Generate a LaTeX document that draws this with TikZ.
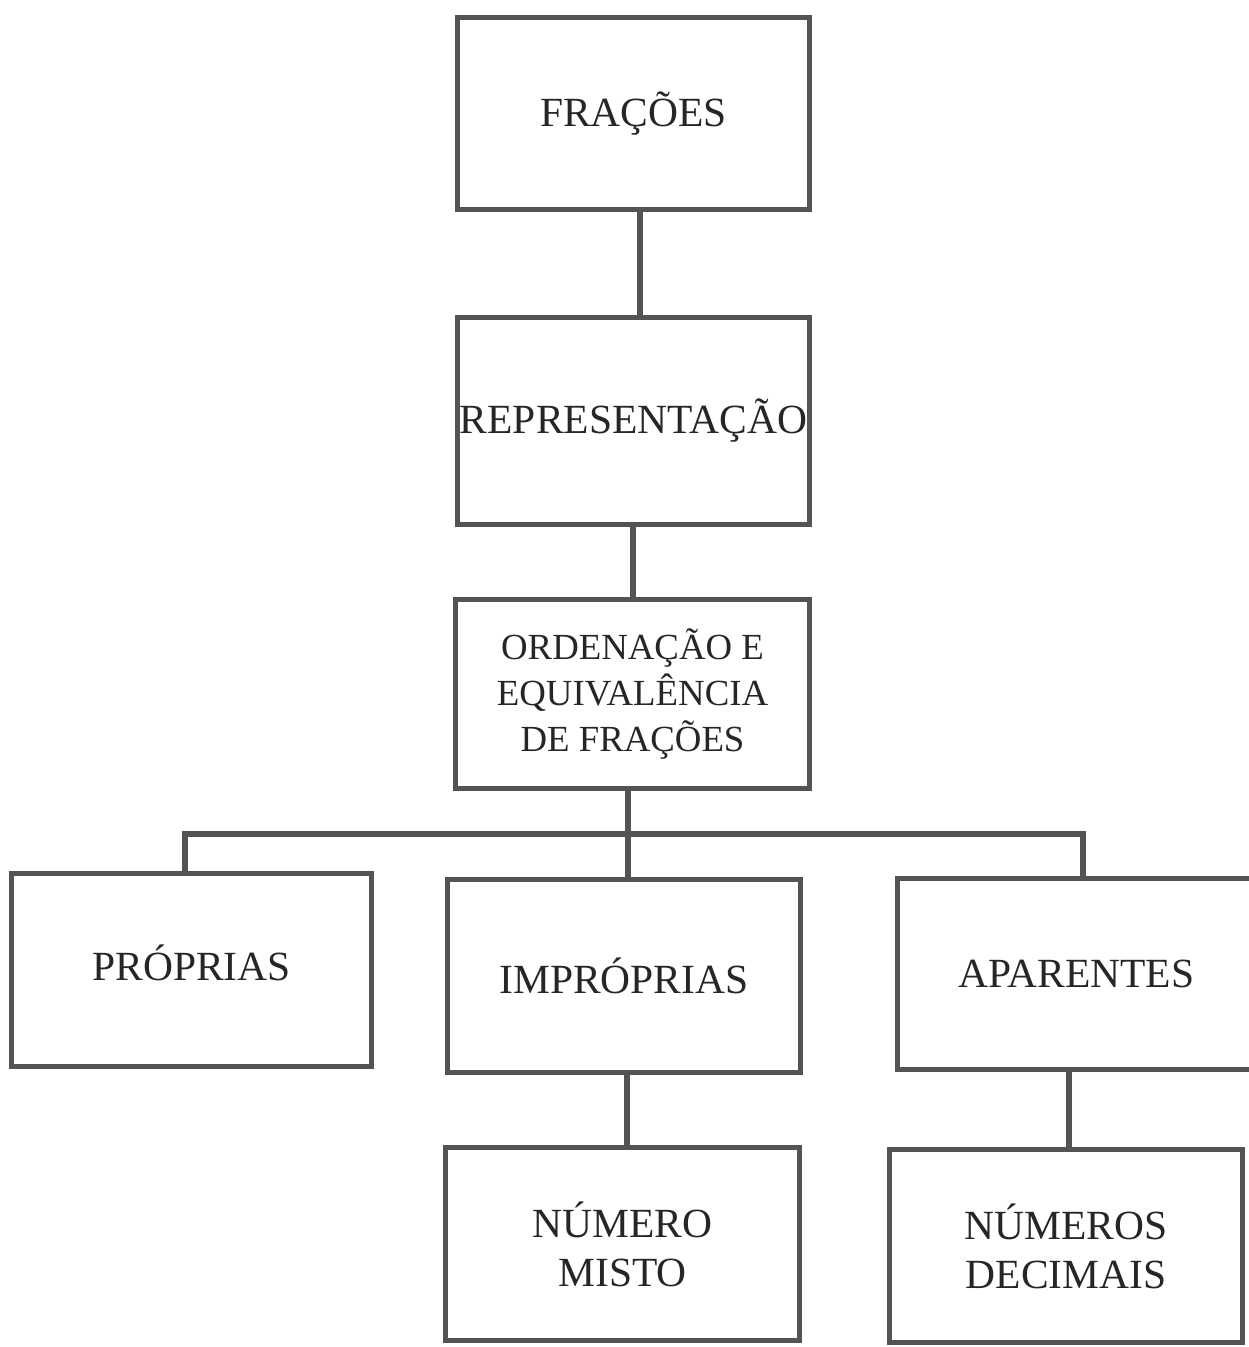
\documentclass[tikz,border=0pt]{standalone}
\usepackage{fontspec}
\setmainfont{Liberation Serif}
\usetikzlibrary{calc}
\definecolor{frame}{gray}{0.33}
\begin{document}
\begin{tikzpicture}[x=0.5pt,y=-0.5pt,
  box/.style={draw=frame, line width=2.6pt, rectangle, inner sep=0pt,
    align=center, text=black!85,
    font=\fontsize{20.75}{24.5}\selectfont},
  link/.style={draw=frame, line width=2.6pt, line join=miter}]
\useasboundingbox[fill=white] (0,0) rectangle (1248,1347);

% concept boxes
\node[box, minimum width=176pt, minimum height=96pt] (fr) at (633.5,113.5) {FRAÇÕES};
\node[box, minimum width=176pt, minimum height=103.5pt] (rep) at (633.5,421) {REPRESENTAÇÃO};
\node[box, minimum width=177pt, minimum height=94.5pt,
      font=\fontsize{18.4}{23}\selectfont] (ord) at (632.5,694)
      {ORDENAÇÃO E\\EQUIVALÊNCIA\\DE FRAÇÕES};
\node[box, minimum width=180pt, minimum height=96.5pt] (prop) at (191.5,970) {PRÓPRIAS\strut};
\node[box, minimum width=176.5pt, minimum height=96.5pt] (impr) at (624,976) {IMPRÓPRIAS};
\node[box, minimum width=178.7pt, minimum height=95.5pt] (apar) at (1076.3,974) {APARENTES};
\node[box, minimum width=177pt, minimum height=96.5pt] (mist) at (622.5,1244) {NÚMERO\\MISTO};
\node[box, minimum width=176.5pt, minimum height=96.5pt] (dec) at (1066,1246) {NÚMEROS\\DECIMAIS};

% connectors
\coordinate (bus) at (628,834);
\draw[link] ($(fr.south)+(6.5,0)$) -- ($(rep.north)+(6.5,0)$);
\draw[link] ($(rep.south)+(-0.5,0)$) -- ($(ord.north)+(0.5,0)$);
\draw[link] ($(ord.south)+(-4.5,0)$) -- ($(impr.north)+(4,0)$);
\draw[link] ($(prop.north)+(-6.5,0)$) |- (bus) -| ($(apar.north)+(6.7,0)$);
\draw[link] ($(impr.south)+(3,0)$) -- ($(mist.north)+(4.5,0)$);
\draw[link] ($(apar.south)+(-7.3,0)$) -- ($(dec.north)+(3,0)$);
\end{tikzpicture}
\end{document}
